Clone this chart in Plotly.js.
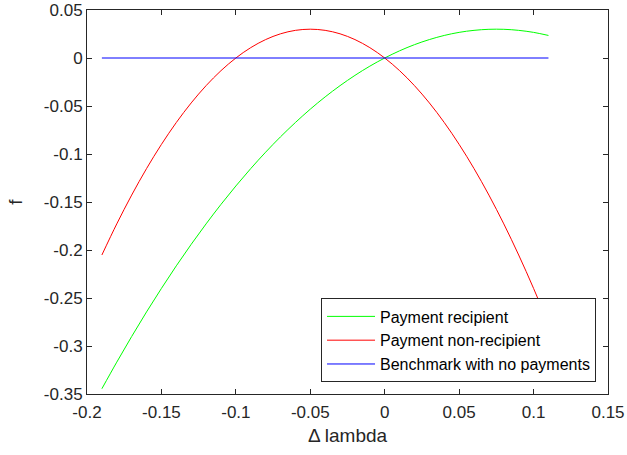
<!DOCTYPE html>
<html>
<head>
<meta charset="utf-8">
<script src="https://cdn.plot.ly/plotly-3.0.1.min.js"></script>
<style>html,body{margin:0;padding:0;background:#fff;}#chart{width:627px;height:455px;}</style>
</head>
<body>
<div id="chart"></div>
<script>
const deltaLambda = [-0.19,-0.18,-0.17,-0.16,-0.15,-0.14,-0.13,-0.12,-0.11,-0.10,-0.09,-0.08,-0.07,-0.06,-0.05,-0.04,-0.03,-0.02,-0.01,0,0.01,0.02,0.03,0.04,0.05,0.06,0.07,0.08,0.09,0.10,0.11];
const recipient = [-0.3445,-0.3168,-0.2901,-0.2645,-0.2400,-0.2165,-0.1941,-0.1728,-0.1525,-0.1333,-0.1152,-0.0981,-0.0821,-0.0672,-0.0533,-0.0405,-0.0288,-0.0181,-0.0085,0,0.0075,0.0139,0.0192,0.0235,0.0267,0.0288,0.0299,0.0299,0.0288,0.0267,0.0235];
const nonRecipient = [-0.2052,-0.1728,-0.1428,-0.1152,-0.0900,-0.0672,-0.0468,-0.0288,-0.0132,0,0.0108,0.0192,0.0252,0.0288,0.0300,0.0288,0.0252,0.0192,0.0108,0,-0.0132,-0.0288,-0.0468,-0.0672,-0.0900,-0.1152,-0.1428,-0.1728,-0.2052,-0.2400,-0.2772];
const benchmark = [0,0,0,0,0,0,0,0,0,0,0,0,0,0,0,0,0,0,0,0,0,0,0,0,0,0,0,0,0,0,0];
const seriesNames = ["Payment recipient","Payment non-recipient","Benchmark with no payments"];
const xTicks = [-0.2,-0.15,-0.1,-0.05,0,0.05,0.1,0.15];
const xTickText = ["-0.2","-0.15","-0.1","-0.05","0","0.05","0.1","0.15"];
const yTicks = [-0.35,-0.3,-0.25,-0.2,-0.15,-0.1,-0.05,0,0.05];
const yTickText = ["-0.35","-0.3","-0.25","-0.2","-0.15","-0.1","-0.05","0","0.05"];

const fontFam = "Liberation Sans, Arial, sans-serif";
const axisCol = "#262626";
const traces = [
  {x: deltaLambda, y: recipient, name: seriesNames[0], mode: "lines", line: {color: "#00ff00", width: 1, shape: "spline"}},
  {x: deltaLambda, y: nonRecipient, name: seriesNames[1], mode: "lines", line: {color: "#ff0000", width: 1, shape: "spline"}},
  {x: deltaLambda, y: benchmark, name: seriesNames[2], mode: "lines", line: {color: "#0000ff", width: 1}}
];
const axCommon = {
  showgrid: false, zeroline: false, showline: true, linecolor: axisCol, linewidth: 1,
  mirror: "allticks", ticks: "inside", ticklen: 5, tickcolor: axisCol, tickwidth: 1,
  tickfont: {family: fontFam, size: 17, color: axisCol}, tickmode: "array",
  ticklabeloverflow: "allow"
};
const layout = {
  width: 627, height: 455,
  margin: {l: 87, r: 19, t: 10, b: 61},
  paper_bgcolor: "#fff", plot_bgcolor: "#fff",
  showlegend: true,
  font: {family: fontFam, color: axisCol},
  xaxis: Object.assign({}, axCommon, {range: [-0.2, 0.150001], tickvals: xTicks, ticktext: xTickText,
    ticklabelstandoff: 3,
    title: {text: "\u0394 lambda", font: {family: fontFam, size: 19, color: axisCol}, standoff: 7}}),
  yaxis: Object.assign({}, axCommon, {range: [-0.350001, 0.050001], tickvals: yTicks, ticktext: yTickText,
    title: {text: "f", font: {family: fontFam, size: 19, color: axisCol}, standoff: 16}}),
  legend: {x: 0.977, y: 0.03, xanchor: "right", yanchor: "bottom", bgcolor: "#fff",
    bordercolor: axisCol, borderwidth: 1, font: {family: fontFam, size: 16, color: "#000"},
    itemwidth: 48}
};
Plotly.newPlot("chart", traces, layout, {displayModeBar: false, staticPlot: true});
</script>
</body>
</html>
